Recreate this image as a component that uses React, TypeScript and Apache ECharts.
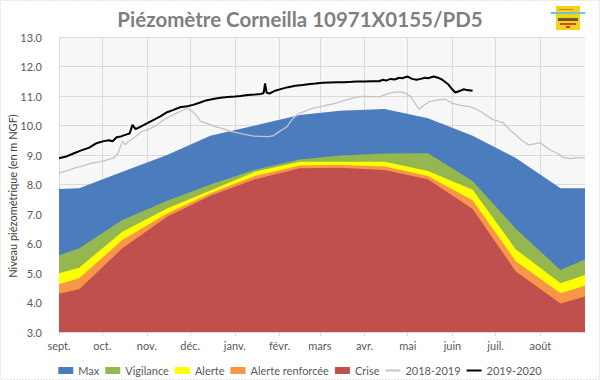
import React, { useEffect, useRef } from "react";
import * as echarts from "echarts";

const TITLE = "Piézomètre Corneilla 10971X0155/PD5";
const Y_NAME = "Niveau piézométrique (en m NGF)";
const MONTH_LABELS = ["sept.", "oct.", "nov.", "déc.", "janv.", "févr.", "mars", "avr.", "mai", "juin", "juil.", "août"];
const MONTH_START_DAYS = [0, 30, 61, 91, 122, 153, 181, 212, 242, 273, 303, 334];
const LAST_DAY = 365;

// envelope control points (day index from 1 Sept)
const ENV_DAYS = [0, 14, 44, 75, 105, 136, 167, 195, 226, 256, 287, 317, 348, 365];
const MAX_VALS = [7.85, 7.87, 8.43, 9.0, 9.65, 10.0, 10.36, 10.5, 10.56, 10.25, 9.65, 8.9, 7.87, 7.87];
const VIGILANCE_VALS = [5.6, 5.84, 6.8, 7.45, 8.0, 8.5, 8.85, 8.98, 9.05, 9.06, 8.12, 6.5, 5.1, 5.47];
const ALERTE_VALS = [4.99, 5.18, 6.4, 7.19, 7.8, 8.43, 8.77, 8.77, 8.77, 8.46, 7.82, 5.8, 4.65, 4.93];
const RENFORCEE_VALS = [4.62, 4.82, 6.12, 7.02, 7.7, 8.29, 8.64, 8.66, 8.61, 8.29, 7.47, 5.4, 4.31, 4.57];
const CRISE_VALS = [4.3, 4.45, 5.84, 6.91, 7.62, 8.18, 8.55, 8.57, 8.49, 8.18, 7.17, 5.05, 3.97, 4.2];

// 2019-2020 observed levels
const Y1920_DAYS = [0, 5, 10, 15, 21, 26, 31, 35, 37, 40, 43, 47, 49, 51, 53, 55, 59, 62, 66, 70, 75, 79, 84, 89, 93, 98, 102, 107, 112, 117, 122, 126, 131, 136, 140, 142, 143, 144, 146, 150, 155, 159, 164, 169, 173, 178, 183, 188, 193, 198, 203, 207, 212, 217, 222, 225, 227, 230, 233, 236, 238, 242, 245, 248, 251, 254, 256, 260, 263, 266, 270, 273, 275, 278, 281, 283, 287];
const Y1920_VALS = [8.89, 8.95, 9.05, 9.15, 9.25, 9.4, 9.47, 9.5, 9.46, 9.6, 9.63, 9.7, 9.73, 10.02, 9.88, 9.92, 10.02, 10.1, 10.2, 10.3, 10.45, 10.52, 10.62, 10.65, 10.7, 10.78, 10.85, 10.9, 10.94, 10.97, 10.98, 11.0, 11.03, 11.05, 11.07, 11.1, 11.43, 11.12, 11.08, 11.18, 11.25, 11.3, 11.35, 11.37, 11.4, 11.42, 11.45, 11.46, 11.47, 11.47, 11.48, 11.49, 11.49, 11.5, 11.5, 11.55, 11.52, 11.58, 11.56, 11.62, 11.6, 11.66, 11.58, 11.55, 11.58, 11.62, 11.6, 11.66, 11.62, 11.55, 11.4, 11.22, 11.12, 11.17, 11.23, 11.2, 11.18];

// 2018-2019 observed levels
const Y1819_DAYS = [0, 6, 10, 16, 22, 28, 33, 38, 41, 44, 46, 48, 53, 57, 62, 66, 70, 76, 81, 85, 89, 92, 95, 98, 104, 109, 115, 119, 124, 129, 135, 140, 145, 149, 153, 158, 162, 166, 170, 176, 183, 189, 195, 200, 206, 212, 218, 223, 228, 233, 237, 241, 244, 247, 250, 253, 257, 263, 268, 273, 279, 285, 290, 296, 301, 308, 313, 317, 321, 326, 330, 334, 337, 341, 346, 350, 355, 359, 365];
const Y1819_VALS = [8.39, 8.47, 8.55, 8.62, 8.72, 8.77, 8.83, 8.9, 9.06, 9.48, 9.35, 9.45, 9.62, 9.78, 9.87, 9.96, 10.1, 10.28, 10.4, 10.5, 10.58, 10.5, 10.36, 10.15, 10.05, 9.95, 9.88, 9.8, 9.75, 9.7, 9.64, 9.63, 9.62, 9.66, 9.8, 9.95, 10.22, 10.4, 10.47, 10.58, 10.66, 10.72, 10.8, 10.88, 10.95, 10.99, 10.98, 10.98, 11.08, 11.13, 11.14, 11.08, 10.98, 10.75, 10.55, 10.68, 10.81, 10.87, 10.89, 10.75, 10.68, 10.64, 10.55, 10.36, 10.2, 10.1, 9.85, 9.68, 9.5, 9.34, 9.38, 9.42, 9.3, 9.17, 9.05, 8.92, 8.88, 8.9, 8.9];

const Y_MIN = 3;
const Y_MAX = 13;
const Y_STEP = 1;

const FONT = "Lato, 'Open Sans', sans-serif";
const TEXT_COLOR = "#595959";
const LINE_ICON = "path://M0,0 L30,0 L30,4 L0,4 Z";

const pairs = (days: number[], vals: number[]) => days.map((d, i) => [d, vals[i]]);

export default function App() {
  const ref = useRef<HTMLDivElement>(null);

  useEffect(() => {
    if (!ref.current) return;
    const chart = echarts.init(ref.current, null, { renderer: "svg" });
    const categories = Array.from({ length: LAST_DAY + 1 }, (_, i) => String(i));
    const isMonthStart = (idx: number) => MONTH_START_DAYS.indexOf(idx) >= 0;

    const area = (name: string, days: number[], vals: number[], color: string) => ({
      type: "line",
      name,
      data: pairs(days, vals),
      symbol: "none",
      silent: true,
      itemStyle: { color },
      lineStyle: { width: 0, color },
      areaStyle: { color, opacity: 1, origin: "start" },
    });

    chart.setOption({
      animation: false,
      backgroundColor: "#ffffff",
      textStyle: { fontFamily: FONT },
      title: {
        text: TITLE,
        left: "center",
        top: 3,
        textStyle: { fontFamily: FONT, fontSize: 20.5, fontWeight: "bold", color: "#7f7f7f" },
      },
      grid: {
        left: 59,
        right: 15,
        top: 37,
        bottom: 48,
        show: true,
        backgroundColor: "#f7f7f8",
        borderWidth: 0,
      },
      legend: {
        top: 360,
        left: "center",
        itemWidth: 15,
        itemHeight: 7,
        itemGap: 6,
        textStyle: { fontFamily: FONT, fontSize: 11, color: TEXT_COLOR },
        data: [
          { name: "Max", icon: "rect" },
          { name: "Vigilance", icon: "rect" },
          { name: "Alerte", icon: "rect" },
          { name: "Alerte renforcée", icon: "rect" },
          { name: "Crise", icon: "rect" },
          { name: "2018-2019", icon: LINE_ICON },
          { name: "2019-2020", icon: LINE_ICON },
        ],
      },
      xAxis: {
        type: "category",
        data: categories,
        boundaryGap: false,
        axisLine: { show: true, lineStyle: { color: "#d9d9d9" } },
        axisTick: { show: true, interval: isMonthStart, length: 4, lineStyle: { color: "#d9d9d9" } },
        splitLine: { show: true, interval: isMonthStart, lineStyle: { color: "#dadada", width: 1 } },
        axisLabel: {
          interval: isMonthStart,
          formatter: (_v: string, idx: number) => {
            const k = MONTH_START_DAYS.indexOf(idx);
            return k >= 0 ? MONTH_LABELS[k] : "";
          },
          color: TEXT_COLOR,
          fontSize: 11,
          fontFamily: FONT,
          margin: 8,
        },
      },
      yAxis: {
        type: "value",
        min: Y_MIN,
        max: Y_MAX,
        interval: Y_STEP,
        axisLine: { show: false },
        axisTick: { show: false },
        splitLine: { show: true, lineStyle: { color: "#dadada", width: 1 } },
        axisLabel: {
          formatter: (v: number) => v.toFixed(1),
          color: TEXT_COLOR,
          fontSize: 11,
          fontFamily: FONT,
          margin: 17,
        },
      },
      graphic: [
        {
          type: "rect",
          shape: { x: 0.5, y: 0.5, width: 599, height: 379 },
          style: { fill: "none", stroke: "#cfcfcf", lineWidth: 1, lineDash: [1, 2] },
          silent: true,
        },
        {
          type: "text",
          x: 12,
          y: 196,
          rotation: Math.PI / 2,
          style: {
            text: Y_NAME,
            fontFamily: FONT,
            fontSize: 11,
            fill: "#404040",
            align: "center",
            verticalAlign: "middle",
          },
          silent: true,
        },
        {
          type: "group",
          silent: true,
          children: [
            { type: "rect", shape: { x: 556, y: 6, width: 24, height: 24 }, style: { fill: "#f2d21b" } },
            { type: "rect", shape: { x: 551, y: 12, width: 34, height: 2 }, style: { fill: "#6cc6d6" } },
            { type: "rect", shape: { x: 559, y: 9, width: 14, height: 1 }, style: { fill: "#c98a2a" } },
            { type: "rect", shape: { x: 558, y: 18, width: 20, height: 3 }, style: { fill: "#6b5a2a" } },
            { type: "rect", shape: { x: 560, y: 23, width: 16, height: 2 }, style: { fill: "#d2452b" } },
            { type: "rect", shape: { x: 566, y: 26, width: 4, height: 2 }, style: { fill: "#d2452b" } },
          ],
        },
      ],
      series: [
        area("Max", ENV_DAYS, MAX_VALS, "#4a7cbe"),
        area("Vigilance", ENV_DAYS, VIGILANCE_VALS, "#94b84f"),
        area("Alerte", ENV_DAYS, ALERTE_VALS, "#ffff00"),
        area("Alerte renforcée", ENV_DAYS, RENFORCEE_VALS, "#f79646"),
        area("Crise", ENV_DAYS, CRISE_VALS, "#c0504d"),
        {
          type: "line",
          name: "2018-2019",
          data: pairs(Y1819_DAYS, Y1819_VALS),
          symbol: "none",
          silent: true,
          itemStyle: { color: "#c4c4c4" },
          lineStyle: { color: "#c4c4c4", width: 1.3 },
          z: 3,
        },
        {
          type: "line",
          name: "2019-2020",
          data: pairs(Y1920_DAYS, Y1920_VALS),
          symbol: "none",
          silent: true,
          itemStyle: { color: "#000000" },
          lineStyle: { color: "#000000", width: 2 },
          z: 4,
        },
      ],
    });
    return () => chart.dispose();
  }, []);

  return (
    <div
      ref={ref}
      style={{ position: "absolute", left: 0, top: 0, width: 600, height: 380 }}
    />
  );
}
